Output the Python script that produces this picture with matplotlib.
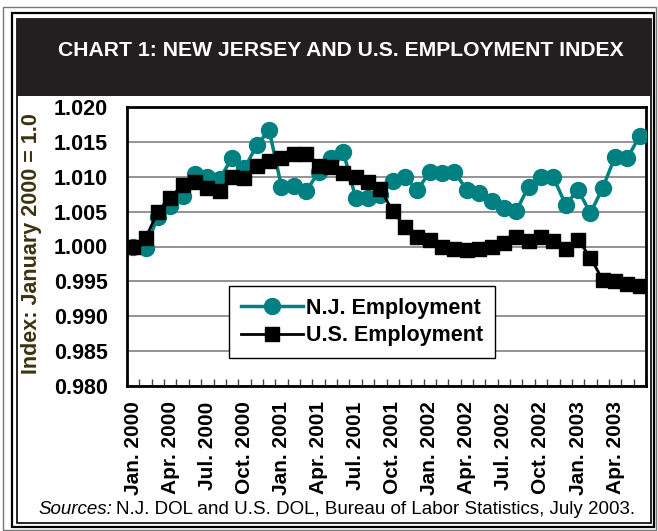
import matplotlib
matplotlib.use('Agg')
import matplotlib.pyplot as plt
import numpy as np
from matplotlib.patches import Rectangle
from matplotlib.ticker import FixedLocator

# ---- data ----
tick_labels = ['Jan. 2000', 'Apr. 2000', 'Jul. 2000', 'Oct. 2000',
               'Jan. 2001', 'Apr. 2001', 'Jul. 2001', 'Oct. 2001',
               'Jan. 2002', 'Apr. 2002', 'Jul. 2002', 'Oct. 2002',
               'Jan. 2003', 'Apr. 2003']
nj_employment = [1.0000, 0.9998, 1.0043, 1.0058, 1.0073, 1.0104, 1.0100, 1.0097,
                 1.0127, 1.0112, 1.0145, 1.0167, 1.0086, 1.0087, 1.0079, 1.0107,
                 1.0127, 1.0136, 1.0070, 1.0070, 1.0074, 1.0094, 1.0099, 1.0081,
                 1.0107, 1.0105, 1.0107, 1.0081, 1.0077, 1.0065, 1.0055, 1.0051,
                 1.0086, 1.0100, 1.0099, 1.0060, 1.0081, 1.0048, 1.0084, 1.0129,
                 1.0127, 1.0159]
us_employment = [1.0000, 1.0012, 1.0050, 1.0070, 1.0088, 1.0092, 1.0084, 1.0080,
                 1.0100, 1.0098, 1.0115, 1.0122, 1.0127, 1.0132, 1.0133, 1.0115,
                 1.0114, 1.0106, 1.0100, 1.0093, 1.0082, 1.0051, 1.0028, 1.0013,
                 1.0010, 0.9999, 0.9997, 0.9995, 0.9997, 1.0000, 1.0005, 1.0013,
                 1.0008, 1.0013, 1.0008, 0.9996, 1.0010, 0.9984, 0.9952, 0.9950,
                 0.9946, 0.9943]
y_ticks = [0.980, 0.985, 0.990, 0.995, 1.000, 1.005, 1.010, 1.015, 1.020]

W, H = 658, 531
fig = plt.figure(figsize=(W / 100, H / 100), dpi=100)
fig.patch.set_facecolor('white')

def fx(px):
    return px / W

def fy(py):
    return 1 - py / H

SANS = ['Liberation Sans', 'DejaVu Sans']

# ---- frames ----
fig.add_artist(Rectangle((fx(3), fy(530)), fx(656) - fx(3), fy(7) - fy(530),
                         transform=fig.transFigure, fill=False, ec='#777777', lw=1))
fig.add_artist(Rectangle((fx(12), fy(527)), fx(654) - fx(12), fy(13) - fy(527),
                         transform=fig.transFigure, fill=False, ec='black', lw=1.6))
fig.add_artist(Rectangle((fx(17), fy(523)), fx(651) - fx(17), fy(19) - fy(523),
                         transform=fig.transFigure, fill=False, ec='black', lw=1.2))
fig.add_artist(Rectangle((fx(17), fy(96)), fx(651) - fx(17), fy(19) - fy(96),
                         transform=fig.transFigure, fc='#231f20', ec='none'))
fig.text(fx(341), fy(51), 'CHART 1: NEW JERSEY AND U.S. EMPLOYMENT INDEX',
         color='white', fontsize=15.2, fontweight='bold', family=SANS,
         ha='center', va='center')

# ---- axes ----
ax = fig.add_axes([fx(127), fy(386), (646 - 127) / W, (386 - 107) / H])
x = np.arange(len(nj_employment))
ax.plot(x, nj_employment, color='#008080', lw=2.5, marker='o', ms=11.5,
        mec='#008080', mfc='#008080', label='N.J. Employment', zorder=3)
ax.plot(x, us_employment, color='black', lw=2, marker='s', ms=10,
        mec='black', mfc='black', label='U.S. Employment', zorder=4)

ax.set_xlim(-0.5, len(x) - 0.5)
ax.set_ylim(0.98, 1.02)
ax.set_yticks(y_ticks)
ax.set_yticklabels(['%.3f' % v for v in y_ticks], fontsize=15.5,
                   fontweight='bold', family=SANS)
ax.set_xticks(np.arange(0, len(x), 3))
ax.set_xticklabels(tick_labels, rotation=90, fontsize=15,
                   fontweight='bold', family=SANS)
ax.xaxis.set_minor_locator(FixedLocator(np.arange(-0.5, len(x), 1)))
ax.tick_params(axis='x', which='major', length=0, pad=11)
ax.tick_params(axis='x', which='minor', direction='in', length=5, width=1,
               color='#444444')
ax.tick_params(axis='y', which='major', length=0, pad=14)
ax.yaxis.grid(True, color='#808080', lw=1.2)
ax.set_axisbelow(True)
for s in ax.spines.values():
    s.set_linewidth(2)
    s.set_color('black')

ax.set_ylabel('Index: January 2000 = 1.0', fontsize=15.5, fontweight='bold',
              color='#3b3310', family=SANS)
ax.yaxis.set_label_coords((42 - 127) / 519, 0.51)

leg = ax.legend(loc='upper left', bbox_to_anchor=((229 - 127) / 519, (386 - 286) / 279),
                frameon=True, fancybox=False, edgecolor='black', framealpha=1,
                prop={'family': SANS, 'weight': 'bold', 'size': 15.5},
                handlelength=2.9, borderpad=0.55, labelspacing=0.3,
                handletextpad=0.15, borderaxespad=0)
leg.get_frame().set_linewidth(1)

# ---- sources ----
renderer = fig.canvas.get_renderer()
t1 = fig.text(fx(38), fy(510), 'Sources:', fontsize=13.5, style='italic',
              family=SANS, ha='left', va='center')
bb = t1.get_window_extent(renderer)
fig.text(bb.x1 / W + 4 / W, fy(510),
         'N.J. DOL and U.S. DOL, Bureau of Labor Statistics, July 2003.',
         fontsize=13.5, family=SANS, ha='left', va='center')

fig.savefig('out.png', dpi=100)
